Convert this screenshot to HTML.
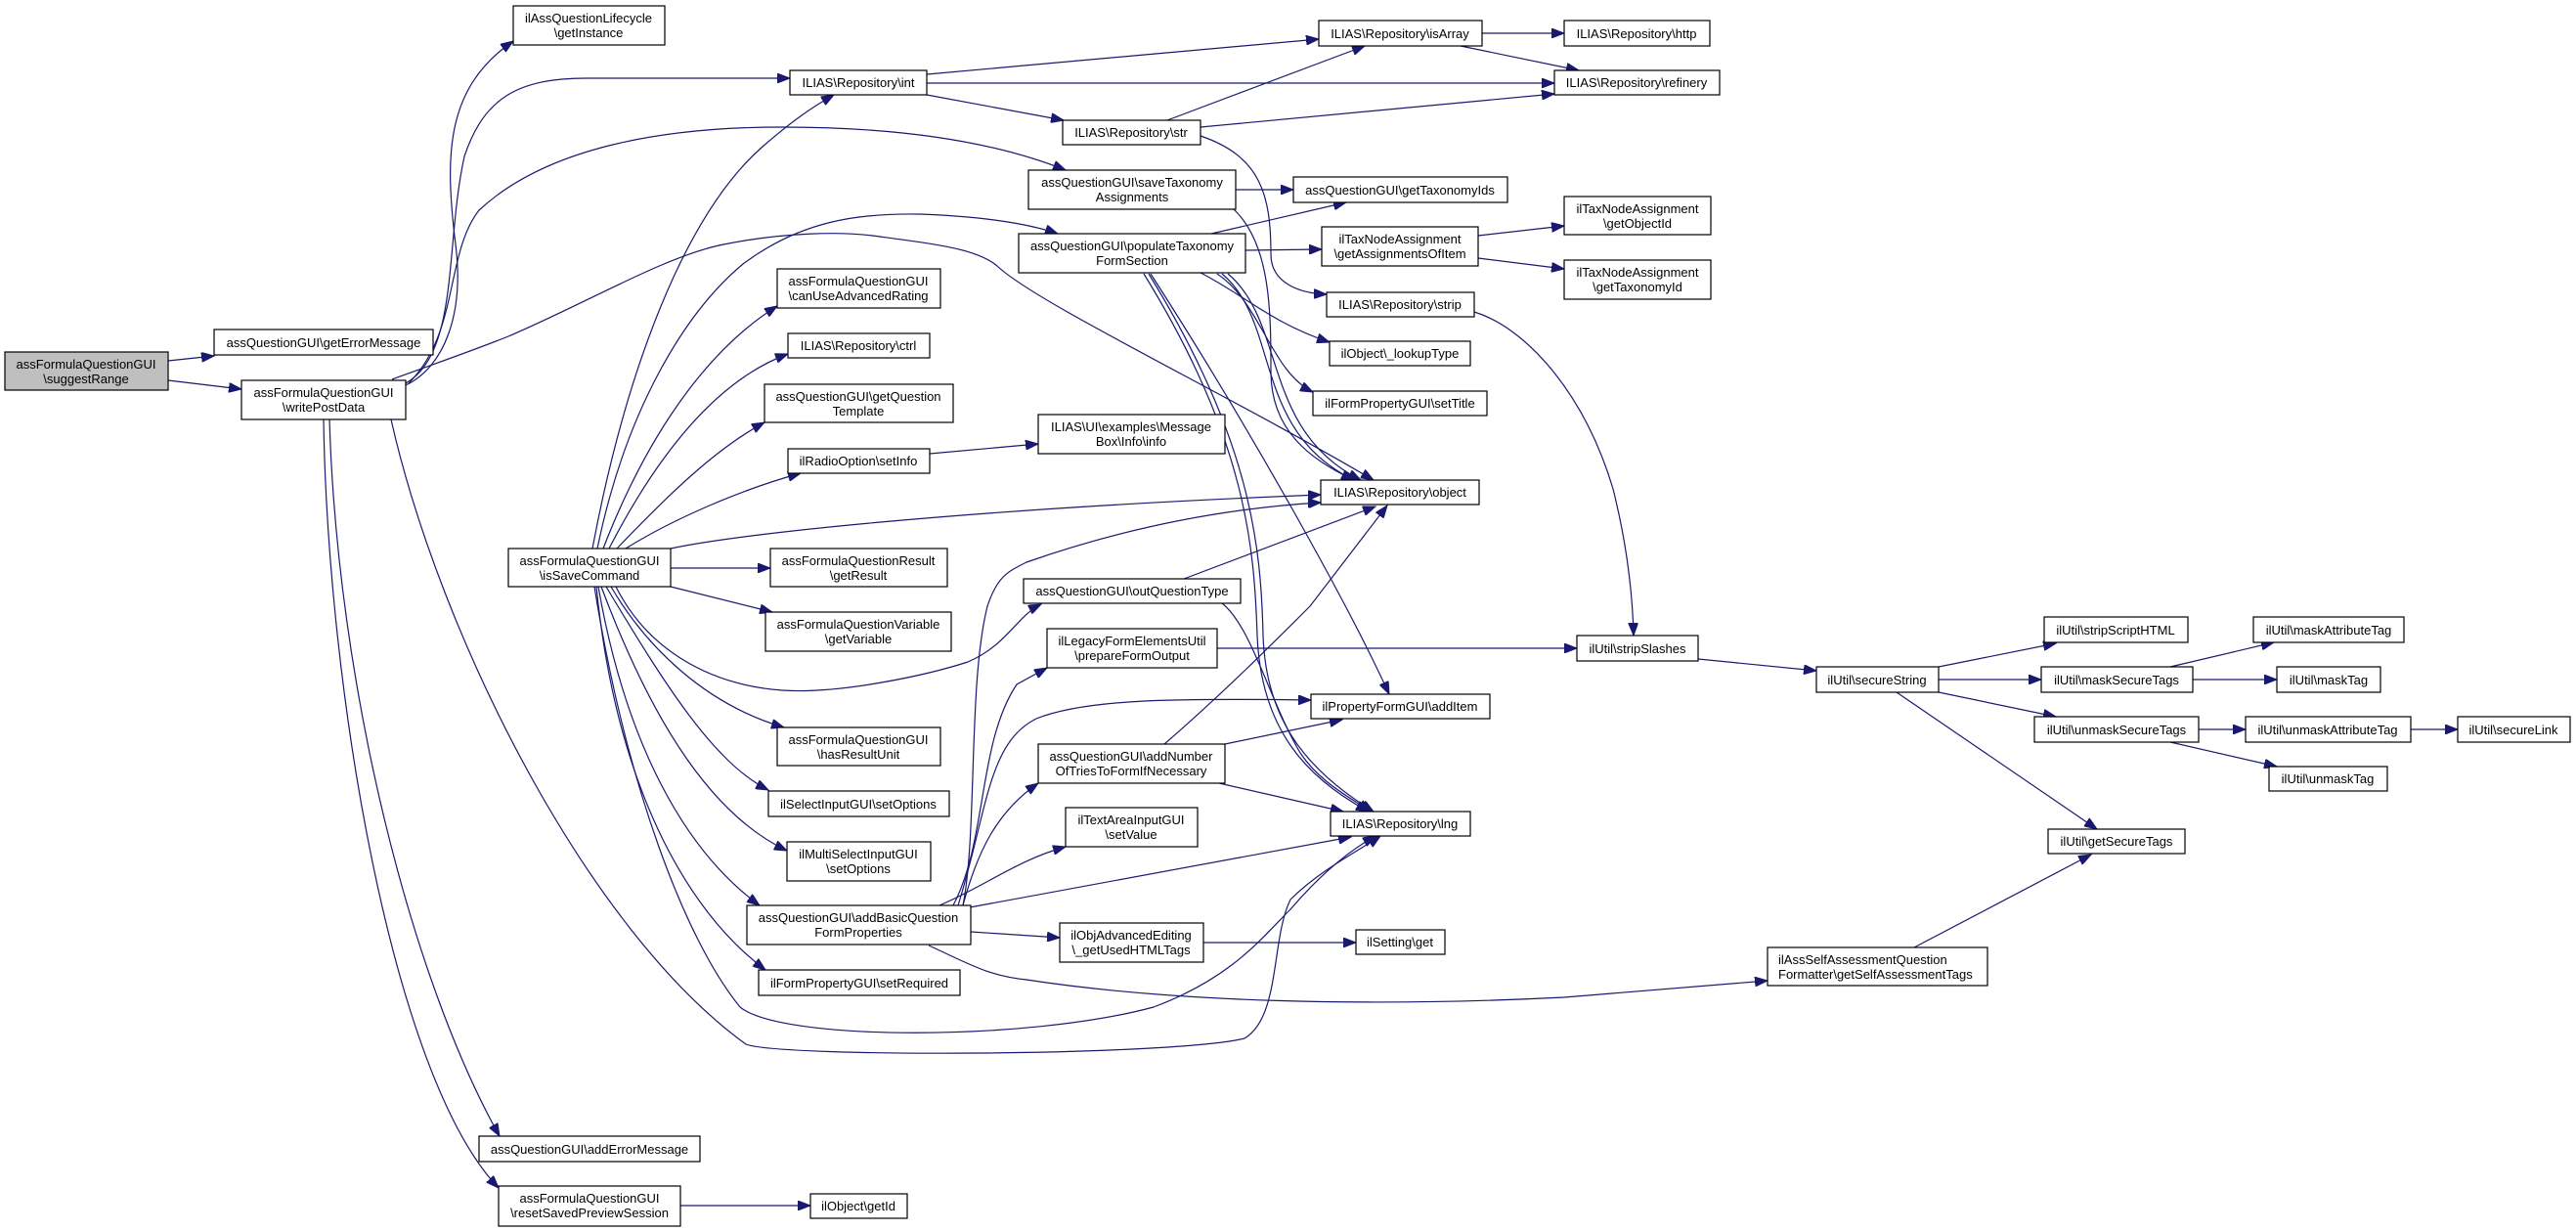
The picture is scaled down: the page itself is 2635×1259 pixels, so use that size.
<!DOCTYPE html>
<html><head><meta charset="utf-8"><style>
html,body{margin:0;padding:0;background:#fff;}
svg{display:block;}
text{font-family:"Liberation Sans",Arial,sans-serif;font-size:13px;fill:#000;}
.n{fill:#fff;stroke:#000;stroke-width:1.2;}
.e{fill:none;stroke:#191970;stroke-width:1.2;}
</style></head><body>
<svg width="2635" height="1259" viewBox="0 0 2635 1259" xmlns="http://www.w3.org/2000/svg">
<defs><marker id="a" markerUnits="userSpaceOnUse" markerWidth="14" markerHeight="10" refX="13" refY="5" orient="auto"><path d="M0,0 L13,5 L0,10 z" fill="#191970" stroke="#191970"/></marker></defs>
<g marker-end="url(#a)">
<path class="e" d="M172,369 L219,364"/>
<path class="e" d="M172,389 L247,398"/>
<path class="e" d="M415,394 C455,375 475,320 466,250 C455,160 455,90 525,42"/>
<path class="e" d="M415,392 C470,360 455,250 475,160 C495,100 530,80 600,80 L808,80"/>
<path class="e" d="M418,392 C470,340 455,260 490,215 C560,150 680,130 800,130 C940,130 1030,150 1090,174"/>
<path class="e" d="M401,388 C450,370 480,360 520,344 C600,310 680,262 740,250 C800,238 860,236 900,242 C960,250 1000,255 1020,272 C1060,310 1250,400 1405,491"/>
<path class="e" d="M611,561 C640,420 700,320 760,270 C820,225 880,218 940,219 C1000,221 1050,228 1082,239"/>
<path class="e" d="M606,561 C640,380 700,220 780,150 C810,124 830,110 853,97"/>
<path class="e" d="M617,561 C660,450 720,360 795,313"/>
<path class="e" d="M623,561 C670,470 730,390 806,362"/>
<path class="e" d="M631,561 C680,510 730,460 782,432"/>
<path class="e" d="M640,561 C690,530 760,500 819,484"/>
<path class="e" d="M686,561 C760,545 1000,520 1351,506"/>
<path class="e" d="M686,581 L788,581"/>
<path class="e" d="M686,600 L790,626"/>
<path class="e" d="M625,600 C660,660 720,720 802,744"/>
<path class="e" d="M630,600 C660,660 720,700 800,706 C860,710 950,690 990,677 C1030,660 1040,630 1065,618"/>
<path class="e" d="M985,926 C1000,850 990,700 1010,620 C1020,590 1030,585 1050,575 C1150,540 1250,520 1351,514"/>
<path class="e" d="M620,600 C680,700 730,780 786,808"/>
<path class="e" d="M615,600 C660,720 720,830 805,870"/>
<path class="e" d="M612,600 C640,760 700,870 777,926"/>
<path class="e" d="M610,600 C630,800 700,930 783,992"/>
<path class="e" d="M608,600 C640,800 700,960 757,1030 C800,1065 1050,1065 1180,1030 C1260,1000 1290,960 1320,930 C1350,895 1380,870 1407,855"/>
<path class="e" d="M400,429 C450,650 600,950 763,1068 C800,1082 1200,1080 1273,1062 C1310,1040 1300,960 1320,920 C1350,890 1390,870 1412,855"/>
<path class="e" d="M337,429 C345,700 420,1000 511,1162"/>
<path class="e" d="M331,429 C335,700 400,1100 510,1215"/>
<path class="e" d="M696,1233 L829,1233"/>
<path class="e" d="M948,76 L1349,40"/>
<path class="e" d="M948,85 L1590,85"/>
<path class="e" d="M948,97 L1088,123"/>
<path class="e" d="M1194,123 L1396,47"/>
<path class="e" d="M1228,130 L1590,96"/>
<path class="e" d="M1516,34 L1600,34"/>
<path class="e" d="M1494,47 L1615,72"/>
<path class="e" d="M1228,139 C1290,160 1300,200 1300,260 C1300,290 1330,300 1357,301"/>
<path class="e" d="M1264,194 L1323,194"/>
<path class="e" d="M1262,214 C1300,250 1300,320 1300,380 C1300,440 1340,470 1385,491"/>
<path class="e" d="M1239,239 L1377,207"/>
<path class="e" d="M1274,256 L1352,255"/>
<path class="e" d="M1228,279 C1270,300 1300,330 1360,350"/>
<path class="e" d="M1245,280 C1290,310 1300,380 1343,401"/>
<path class="e" d="M1250,280 C1310,330 1280,440 1385,491"/>
<path class="e" d="M1256,280 C1316,330 1290,440 1392,491"/>
<path class="e" d="M1177,280 C1280,440 1380,620 1421,710"/>
<path class="e" d="M1175,280 C1280,450 1290,560 1292,650 C1295,740 1340,790 1405,830"/>
<path class="e" d="M1170,280 C1275,450 1283,560 1286,650 C1290,745 1335,795 1400,830"/>
<path class="e" d="M1512,241 L1600,231"/>
<path class="e" d="M1512,264 L1600,275"/>
<path class="e" d="M1508,319 C1560,335 1620,400 1650,500 C1665,560 1670,610 1671,650"/>
<path class="e" d="M951,464 L1062,454"/>
<path class="e" d="M1211,592 L1407,518"/>
<path class="e" d="M1250,617 C1280,640 1300,720 1330,770 C1350,800 1380,815 1402,830"/>
<path class="e" d="M1245,663 L1613,663"/>
<path class="e" d="M975,926 C1010,860 1000,760 1040,700 L1071,683"/>
<path class="e" d="M980,926 C1010,830 1010,760 1060,735 C1110,715 1200,714 1341,716"/>
<path class="e" d="M985,926 C1000,870 1020,830 1062,801"/>
<path class="e" d="M961,926 C1010,905 1040,880 1090,866"/>
<path class="e" d="M992,928 L1382,856"/>
<path class="e" d="M993,953 L1084,959"/>
<path class="e" d="M950,967 C990,985 1010,998 1050,1002 C1200,1025 1400,1030 1600,1020 L1808,1003"/>
<path class="e" d="M1253,761 L1373,736"/>
<path class="e" d="M1247,801 L1374,830"/>
<path class="e" d="M1191,761 C1250,710 1300,660 1340,620 L1419,517"/>
<path class="e" d="M1231,964 L1387,964"/>
<path class="e" d="M1737,674 L1858,686"/>
<path class="e" d="M1983,682 L2103,658"/>
<path class="e" d="M1983,695 L2088,695"/>
<path class="e" d="M1983,708 L2103,733"/>
<path class="e" d="M1940,708 L2145,848"/>
<path class="e" d="M2220,682 L2326,657"/>
<path class="e" d="M2243,695 L2329,695"/>
<path class="e" d="M2249,746 L2297,746"/>
<path class="e" d="M2466,746 L2514,746"/>
<path class="e" d="M2220,759 L2329,784"/>
<path class="e" d="M1958,969 L2139,874"/>
</g>
<g text-anchor="middle">
<rect x="5" y="360" width="167" height="39" style="fill:#bfbfbf;stroke:#000;stroke-width:1.2"/><text x="88" y="377">assFormulaQuestionGUI</text><text x="88" y="392">\suggestRange</text>
<rect class="n" x="219" y="337" width="224" height="26"/><text x="331" y="355">assQuestionGUI\getErrorMessage</text>
<rect class="n" x="247" y="389" width="168" height="40"/><text x="331" y="406">assFormulaQuestionGUI</text><text x="331" y="421">\writePostData</text>
<rect class="n" x="525" y="6" width="155" height="40"/><text x="602" y="23">ilAssQuestionLifecycle</text><text x="602" y="38">\getInstance</text>
<rect class="n" x="520" y="561" width="166" height="39"/><text x="603" y="578">assFormulaQuestionGUI</text><text x="603" y="593">\isSaveCommand</text>
<rect class="n" x="808" y="72" width="140" height="25"/><text x="878" y="89">ILIAS\Repository\int</text>
<rect class="n" x="1349" y="21" width="167" height="26"/><text x="1432" y="39">ILIAS\Repository\isArray</text>
<rect class="n" x="1600" y="21" width="149" height="26"/><text x="1674" y="39">ILIAS\Repository\http</text>
<rect class="n" x="1590" y="72" width="169" height="25"/><text x="1674" y="89">ILIAS\Repository\refinery</text>
<rect class="n" x="1087" y="123" width="141" height="25"/><text x="1157" y="140">ILIAS\Repository\str</text>
<rect class="n" x="1052" y="174" width="212" height="40"/><text x="1158" y="191">assQuestionGUI\saveTaxonomy</text><text x="1158" y="206">Assignments</text>
<rect class="n" x="1323" y="181" width="219" height="26"/><text x="1432" y="199">assQuestionGUI\getTaxonomyIds</text>
<rect class="n" x="1042" y="239" width="232" height="40"/><text x="1158" y="256">assQuestionGUI\populateTaxonomy</text><text x="1158" y="271">FormSection</text>
<rect class="n" x="1352" y="232" width="160" height="40"/><text x="1432" y="249">ilTaxNodeAssignment</text><text x="1432" y="264">\getAssignmentsOfItem</text>
<rect class="n" x="1600" y="201" width="150" height="39"/><text x="1675" y="218">ilTaxNodeAssignment</text><text x="1675" y="233">\getObjectId</text>
<rect class="n" x="1600" y="266" width="150" height="40"/><text x="1675" y="283">ilTaxNodeAssignment</text><text x="1675" y="298">\getTaxonomyId</text>
<rect class="n" x="1357" y="299" width="151" height="25"/><text x="1432" y="316">ILIAS\Repository\strip</text>
<rect class="n" x="1360" y="349" width="144" height="25"/><text x="1432" y="366">ilObject\_lookupType</text>
<rect class="n" x="1343" y="400" width="178" height="25"/><text x="1432" y="417">ilFormPropertyGUI\setTitle</text>
<rect class="n" x="1062" y="424" width="191" height="40"/><text x="1157" y="441">ILIAS\UI\examples\Message</text><text x="1157" y="456">Box\Info\info</text>
<rect class="n" x="1351" y="491" width="162" height="25"/><text x="1432" y="508">ILIAS\Repository\object</text>
<rect class="n" x="1047" y="592" width="222" height="25"/><text x="1158" y="609">assQuestionGUI\outQuestionType</text>
<rect class="n" x="795" y="275" width="167" height="40"/><text x="878" y="292">assFormulaQuestionGUI</text><text x="878" y="307">\canUseAdvancedRating</text>
<rect class="n" x="806" y="341" width="145" height="25"/><text x="878" y="358">ILIAS\Repository\ctrl</text>
<rect class="n" x="782" y="393" width="193" height="39"/><text x="878" y="410">assQuestionGUI\getQuestion</text><text x="878" y="425">Template</text>
<rect class="n" x="806" y="459" width="145" height="25"/><text x="878" y="476">ilRadioOption\setInfo</text>
<rect class="n" x="788" y="561" width="181" height="39"/><text x="878" y="578">assFormulaQuestionResult</text><text x="878" y="593">\getResult</text>
<rect class="n" x="783" y="626" width="190" height="40"/><text x="878" y="643">assFormulaQuestionVariable</text><text x="878" y="658">\getVariable</text>
<rect class="n" x="795" y="744" width="167" height="39"/><text x="878" y="761">assFormulaQuestionGUI</text><text x="878" y="776">\hasResultUnit</text>
<rect class="n" x="786" y="809" width="185" height="26"/><text x="878" y="827">ilSelectInputGUI\setOptions</text>
<rect class="n" x="805" y="861" width="147" height="40"/><text x="878" y="878">ilMultiSelectInputGUI</text><text x="878" y="893">\setOptions</text>
<rect class="n" x="764" y="926" width="229" height="40"/><text x="878" y="943">assQuestionGUI\addBasicQuestion</text><text x="878" y="958">FormProperties</text>
<rect class="n" x="776" y="992" width="206" height="26"/><text x="879" y="1010">ilFormPropertyGUI\setRequired</text>
<rect class="n" x="490" y="1162" width="226" height="26"/><text x="603" y="1180">assQuestionGUI\addErrorMessage</text>
<rect class="n" x="510" y="1213" width="186" height="41"/><text x="603" y="1230">assFormulaQuestionGUI</text><text x="603" y="1245">\resetSavedPreviewSession</text>
<rect class="n" x="829" y="1221" width="99" height="25"/><text x="878" y="1238">ilObject\getId</text>
<rect class="n" x="1071" y="643" width="174" height="40"/><text x="1158" y="660">ilLegacyFormElementsUtil</text><text x="1158" y="675">\prepareFormOutput</text>
<rect class="n" x="1341" y="710" width="183" height="25"/><text x="1432" y="727">ilPropertyFormGUI\addItem</text>
<rect class="n" x="1062" y="761" width="191" height="40"/><text x="1157" y="778">assQuestionGUI\addNumber</text><text x="1157" y="793">OfTriesToFormIfNecessary</text>
<rect class="n" x="1090" y="826" width="135" height="40"/><text x="1157" y="843">ilTextAreaInputGUI</text><text x="1157" y="858">\setValue</text>
<rect class="n" x="1361" y="830" width="143" height="25"/><text x="1432" y="847">ILIAS\Repository\lng</text>
<rect class="n" x="1084" y="944" width="147" height="40"/><text x="1157" y="961">ilObjAdvancedEditing</text><text x="1157" y="976">\_getUsedHTMLTags</text>
<rect class="n" x="1387" y="951" width="91" height="25"/><text x="1432" y="968">ilSetting\get</text>
<rect class="n" x="1613" y="650" width="124" height="26"/><text x="1675" y="668">ilUtil\stripSlashes</text>
<rect class="n" x="1858" y="682" width="125" height="26"/><text x="1920" y="700">ilUtil\secureString</text>
<rect class="n" x="2091" y="631" width="147" height="26"/><text x="2164" y="649">ilUtil\stripScriptHTML</text>
<rect class="n" x="2088" y="682" width="155" height="26"/><text x="2165" y="700">ilUtil\maskSecureTags</text>
<rect class="n" x="2305" y="631" width="154" height="26"/><text x="2382" y="649">ilUtil\maskAttributeTag</text>
<rect class="n" x="2329" y="682" width="106" height="26"/><text x="2382" y="700">ilUtil\maskTag</text>
<rect class="n" x="2081" y="733" width="168" height="26"/><text x="2165" y="751">ilUtil\unmaskSecureTags</text>
<rect class="n" x="2297" y="733" width="169" height="26"/><text x="2381" y="751">ilUtil\unmaskAttributeTag</text>
<rect class="n" x="2514" y="733" width="115" height="26"/><text x="2571" y="751">ilUtil\secureLink</text>
<rect class="n" x="2321" y="784" width="121" height="25"/><text x="2381" y="801">ilUtil\unmaskTag</text>
<rect class="n" x="2095" y="848" width="140" height="25"/><text x="2165" y="865">ilUtil\getSecureTags</text>
</g>
<rect class="n" x="1808" y="969" width="225" height="39"/><text x="1819" y="986">ilAssSelfAssessmentQuestion</text><text x="1819" y="1001">Formatter\getSelfAssessmentTags</text>
</svg>
</body></html>
